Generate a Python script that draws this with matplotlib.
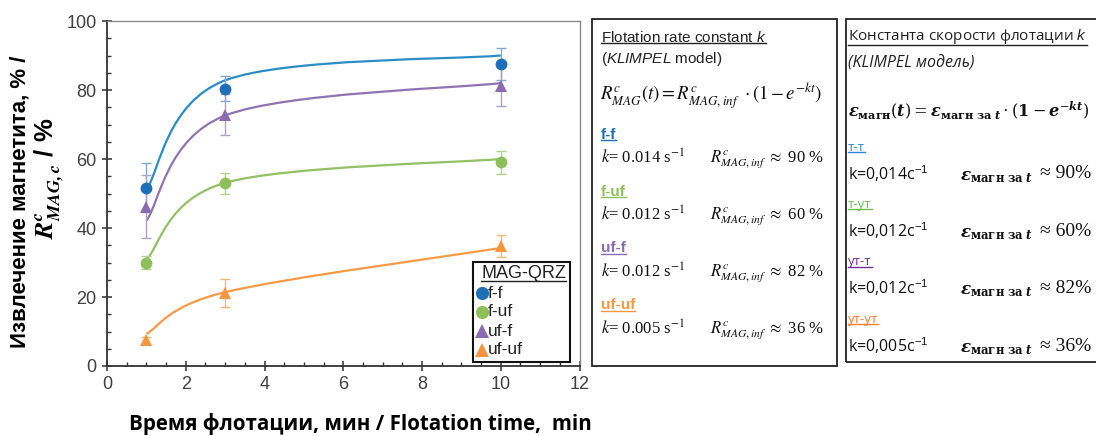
import matplotlib
matplotlib.use('Agg')
import matplotlib.pyplot as plt
from matplotlib.path import Path
from matplotlib.patches import PathPatch, Rectangle
from matplotlib.lines import Line2D
from matplotlib import font_manager
import numpy as np

# ---------------- data ----------------
time_min = [1, 3, 10]
series_names = ['f-f', 'f-uf', 'uf-f', 'uf-uf']
series_names_ru = ['т-т', 'т-ут', 'ут-т', 'ут-ут']
rec_ff = [51.7, 80.4, 87.6]
rec_fuf = [30.0, 53.0, 59.0]
rec_uff = [46.2, 72.8, 81.3]
rec_ufuf = [7.4, 21.1, 34.8]
err_ff = [7.1, 3.6, 4.6]
err_fuf = [2.0, 3.0, 3.3]
err_uff = [9.2, 5.9, 5.8]
err_ufuf = [1.0, 4.0, 3.1]
fit_ff = [51.1, 82.8, 90.0]
fit_fuf = [30.8, 53.1, 60.0]
fit_uff = [42.1, 72.6, 82.0]
fit_ufuf = [9.3, 21.4, 34.2]
k_en = ['0.014', '0.012', '0.012', '0.005']
k_ru = ['0,014', '0,012', '0,012', '0,005']
r_inf = ['90', '60', '82', '36']
x_ticks = [0, 2, 4, 6, 8, 10, 12]
y_ticks = [0, 20, 40, 60, 80, 100]

marker_colors = ['#1f6fb8', '#8fbf5a', '#8a6bb0', '#f7963f']
line_colors = ['#2b8dc6', '#93c063', '#8f74b5', '#f79a48']
err_colors = ['#7fa9d3', '#b3d08f', '#b09fcb', '#f8b57a']
markers = ['o', 'o', '^', '^']
box2_colors = ['#2e86d6', '#6cc04a', '#7030a0', '#ff7f27']

plt.rcParams['mathtext.fontset'] = 'custom'
plt.rcParams['mathtext.rm'] = 'Liberation Sans'
plt.rcParams['mathtext.it'] = 'Liberation Sans:italic'
plt.rcParams['mathtext.bf'] = 'Liberation Sans:bold'

available = {f.name for f in font_manager.fontManager.ttflist}
NARROW = 'Liberation Sans Narrow' if 'Liberation Sans Narrow' in available else 'Liberation Sans'

W, H = 1096, 436
fig = plt.figure(figsize=(W / 100, H / 100), dpi=100)


def fx(px):
    return px / W


def fy(py):
    return 1 - py / H


ax = fig.add_axes([fx(107), fy(366), (579.5 - 107) / W, 345 / H])


def smooth_path(xs, ys):
    pts = np.column_stack([xs, ys]).astype(float)
    n = len(pts)
    verts = [pts[0]]
    codes = [Path.MOVETO]
    for i in range(n - 1):
        p0 = pts[i - 1] if i > 0 else pts[i]
        p1 = pts[i]
        p2 = pts[i + 1]
        p3 = pts[i + 2] if i + 2 < n else pts[i + 1]
        c1 = p1 + (p2 - p0) / 6.0
        c2 = p2 - (p3 - p1) / 6.0
        verts += [c1, c2, p2]
        codes += [Path.CURVE4] * 3
    return Path(verts, codes)


recs = [rec_ff, rec_fuf, rec_uff, rec_ufuf]
errs = [err_ff, err_fuf, err_uff, err_ufuf]
fits = [fit_ff, fit_fuf, fit_uff, fit_ufuf]

for i in range(4):
    ax.add_patch(PathPatch(smooth_path(time_min, fits[i]), fill=False,
                           edgecolor=line_colors[i], lw=1.6, zorder=2))
    ax.errorbar(time_min, recs[i], yerr=errs[i], fmt='none',
                ecolor=err_colors[i], elinewidth=1.0, capsize=3.5,
                capthick=1.0, zorder=3)
    ax.plot(time_min, recs[i], linestyle='none', marker=markers[i],
            markersize=8.5 if markers[i] == 'o' else 9,
            color=marker_colors[i], markeredgewidth=0, zorder=4,
            label=series_names[i])

ax.set_xlim(0, 12)
ax.set_ylim(0, 100)
ax.set_xticks(x_ticks)
ax.set_yticks(y_ticks)
ax.set_xticks(np.arange(0, 12.01, 0.5), minor=True)
ax.set_yticks(np.arange(0, 100.1, 5), minor=True)
ax.tick_params(which='major', direction='inout', length=7, width=1.1,
               color='#333333', labelsize=13, labelcolor='#404040', pad=4)
ax.tick_params(which='minor', direction='in', length=3, width=1.0,
               color='#333333')
for lab in ax.get_xticklabels() + ax.get_yticklabels():
    lab.set_fontfamily(NARROW)
for s in ['left', 'bottom']:
    ax.spines[s].set_color('#333333')
    ax.spines[s].set_linewidth(1.3)
for s in ['top', 'right']:
    ax.spines[s].set_color('#8a8a8a')
    ax.spines[s].set_linewidth(1.0)

underline = []

# ---- legend (drawn as a framed key inside the axes) ----
def ax_x(px):
    return (px - 107) / (579.5 - 107)


def ax_y(py):
    return (366 - py) / 345


ax.add_patch(Rectangle((ax_x(473), ax_y(362)), ax_x(570) - ax_x(473),
                       ax_y(262) - ax_y(362), transform=ax.transAxes,
                       facecolor='white', edgecolor='#111111', lw=1.5,
                       zorder=6))
t = ax.text(ax_x(566), ax_y(274), 'MAG-QRZ', transform=ax.transAxes,
            ha='right', va='center', fontsize=13, family=NARROW,
            color='#222222', zorder=7)
underline.append((t, '#222222'))
leg_rows = [293, 312, 331, 350]
for i in range(4):
    ax.plot([ax_x(482)], [ax_y(leg_rows[i])], transform=ax.transAxes,
            linestyle='none', marker=markers[i],
            markersize=9.5 if markers[i] == 'o' else 10,
            color=marker_colors[i], markeredgewidth=0, zorder=7,
            clip_on=False)
    ax.text(ax_x(488), ax_y(leg_rows[i]), series_names[i],
            transform=ax.transAxes, ha='left', va='center', fontsize=12.5,
            family=NARROW, color='#222222', zorder=7)

# axis labels
fig.text(fx(20), fy(202), 'Извлечение магнетита, % /', rotation=90,
         ha='center', va='center', fontsize=16, fontweight='bold',
         family='Liberation Sans')
fig.text(fx(49), fy(178), r'$\mathbfit{R}^{\mathbfit{c}}_{\mathbfit{MAG,c}}$ / %',
         rotation=90, ha='center', va='center', fontsize=18.5,
         fontweight='bold', family='Liberation Sans', math_fontfamily='stix')
fig.text(fx(360), fy(424), 'Время флотации, мин / Flotation time,  min',
         ha='center', va='center', fontsize=14.8, fontweight='bold',
         family='Open Sans')

# boxes
fig.add_artist(Rectangle((fx(592), fy(366)), (837 - 592) / W, (366 - 19) / H,
                         transform=fig.transFigure, fill=False,
                         edgecolor='#222222', lw=1.3))
fig.add_artist(Rectangle((fx(846), fy(362)), (1110 - 846) / W, (362 - 19) / H,
                         transform=fig.transFigure, fill=False,
                         edgecolor='#222222', lw=1.3))

t = fig.text(fx(601), fy(37), 'Flotation rate constant $k$', ha='left',
             va='center', fontsize=11, family='Liberation Sans',
             color='#222222')
underline.append((t, '#222222'))
fig.text(fx(601), fy(59), r'($\mathit{KLIMPEL}$ model)', ha='left',
         va='center', fontsize=11, family='Liberation Sans', color='#222222')
fig.text(fx(600), fy(96),
         r'$R^{c}_{MAG}(t) = R^{c}_{MAG,inf}\ \cdot\left(1-e^{-kt}\right)$',
         ha='left', va='center', fontsize=13.5, math_fontfamily='stix',
         color='#111111')

y_heads = [135, 192, 248, 305]
y_vals = [158, 215, 272, 329]
for i in range(4):
    t = fig.text(fx(601), fy(y_heads[i]), series_names[i], ha='left',
                 va='center', fontsize=11, fontweight='bold',
                 family='Liberation Sans', color=marker_colors[i])
    underline.append((t, marker_colors[i]))
    fig.text(fx(601), fy(y_vals[i]), r'$k$= ' + k_en[i] + r' s$^{-1}$',
             ha='left', va='center', fontsize=12, family='Liberation Serif',
             math_fontfamily='stix', color='#111111')
    fig.text(fx(710), fy(y_vals[i] + 1),
             r'$R^{c}_{MAG,inf}$ $\approx$ ' + r_inf[i] + ' %',
             ha='left', va='center', fontsize=12, family='Liberation Serif',
             math_fontfamily='stix', color='#111111')

t = fig.text(fx(848), fy(37), 'Константа скорости флотации $k$', ha='left',
             va='center', fontsize=11, family='Open Sans', color='#222222')
underline.append((t, '#222222'))
fig.text(fx(848), fy(63), '(KLIMPEL модель)', ha='left', va='center',
         fontsize=11.5, family='Open Sans', style='italic', color='#222222')
fig.text(fx(848), fy(110),
         r'$\mathbfit{\varepsilon}_{\mathbf{магн}}(\mathbfit{t}) = '
         r'\mathbfit{\varepsilon}_{\mathbf{магн\ за}\ \mathbfit{t}}\cdot'
         r'(\mathbf{1} - \mathbfit{e}^{-\mathbfit{kt}})$',
         ha='left', va='center', fontsize=11.6, math_fontfamily='dejavuserif',
         color='#111111')

y_heads2 = [147, 204, 262, 319]
y_vals2 = [174, 231, 288, 346]
for i in range(4):
    t = fig.text(fx(848), fy(y_heads2[i]), series_names_ru[i], ha='left',
                 va='center', fontsize=9.5, family='Open Sans',
                 color=box2_colors[i])
    underline.append((t, box2_colors[i]))
    fig.text(fx(848), fy(y_vals2[i]), 'k=' + k_ru[i] + 'c$^{-1}$',
             ha='left', va='center', fontsize=11.5, family='Open Sans',
             color='#111111')
    fig.text(fx(960), fy(y_vals2[i] + 2),
             r'$\mathbfit{\varepsilon}_{\mathbf{магн\ за}\ \mathbfit{t}}$',
             ha='left', va='center', fontsize=12,
             math_fontfamily='dejavuserif', color='#111111')
    fig.text(fx(1040), fy(y_vals2[i]), '≈ ' + r_inf[i] + '%',
             ha='left', va='center', fontsize=14, family='Liberation Serif',
             color='#111111')

fig.canvas.draw()
renderer = fig.canvas.get_renderer()
inv = fig.transFigure.inverted()
for t, c in underline:
    bb = t.get_window_extent(renderer)
    (x0, y0), (x1, _) = inv.transform([(bb.x0, bb.y0 + 1.5), (bb.x1, bb.y0)])
    fig.add_artist(Line2D([x0, x1], [y0, y0], transform=fig.transFigure,
                          color=c, lw=1.0, zorder=10))

fig.savefig('out.png', dpi=100)
